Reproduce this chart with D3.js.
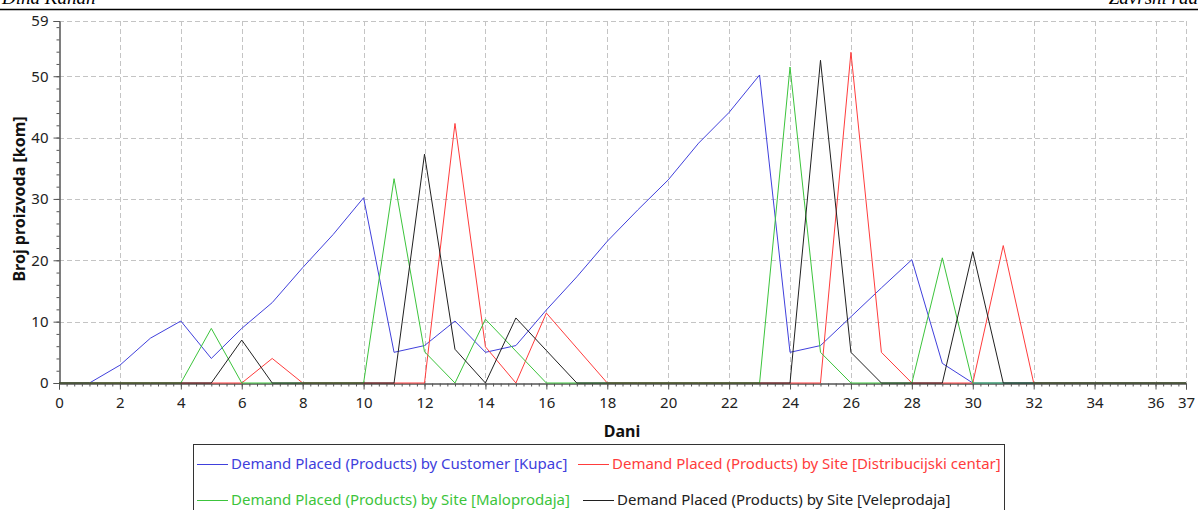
<!DOCTYPE html>
<html>
<head>
<meta charset="utf-8">
<script src="https://cdn.jsdelivr.net/npm/d3@7"></script>
<style>
  body { margin: 0; background: #fff; }
  svg { display: block; font-family: "Noto Sans", "Open Sans", sans-serif; }
</style>
</head>
<body>
<svg id="chart" width="1198" height="510"></svg>
<script>
// days on the x axis
var dani = [0,1,2,3,4,5,6,7,8,9,10,11,12,13,14,15,16,17,18,19,20,21,22,23,24,25,26,27,28,29,30,31,32,33,34,35,36,37];

// demand placed, one value per day
var kupac = [0,0,2.9,7.3,10.1,4.0,8.9,13.1,18.8,24.2,30.2,5.0,6.1,10.1,5.0,6.1,11.9,17.3,23.1,28.2,33.1,39.1,44.1,50.2,5.0,6.1,10.8,15.5,20.1,3.2,0,0,0,0,0,0,0,0];
var distribucijski = [0,0,0,0,0,0,0,4.0,0,0,0,0,0,42.3,5.9,0,11.4,5.7,0,0,0,0,0,0,0,0,53.9,5.0,0,0,0,22.4,0,0,0,0,0,0];
var maloprodaja = [0,0,0,0,0,8.9,0,0,0,0,0,33.3,5.1,0,10.4,5.2,0,0,0,0,0,0,0,0,51.5,5.0,0,0,0,20.4,0,0,0,0,0,0,0,0];
var veleprodaja = [0,0,0,0,0,0,7.0,0,0,0,0,0,37.3,5.5,0,10.6,5.3,0,0,0,0,0,0,0,0,52.6,5.0,0,0,0,21.4,0,0,0,0,0,0,0];

var seriesNames = [
  "Demand Placed (Products) by Customer [Kupac]",
  "Demand Placed (Products) by Site [Distribucijski centar]",
  "Demand Placed (Products) by Site [Maloprodaja]",
  "Demand Placed (Products) by Site [Veleprodaja]"
];
var seriesColors = ["#4040dc", "#ff3c3c", "#3cc43c", "#202020"];

var xTicks = [0,2,4,6,8,10,12,14,16,18,20,22,24,26,28,30,32,34,36,37];
var yTicks = [0,10,20,30,40,50,59];

var svg = d3.select("#chart");

var x = d3.scaleLinear().domain([0, 37]).range([59, 1186]);
var y = d3.scaleLinear().domain([0, 59]).range([383, 21]);

// header strip (page heading, mostly cut off)
svg.append("line")
  .attr("x1", 0).attr("x2", 1198)
  .attr("y1", 9.5).attr("y2", 9.5)
  .attr("stroke", "#000").attr("stroke-width", 1.3);
svg.append("text").attr("x", 2).attr("y", 4)
  .style("font-family", "'Liberation Serif', serif").style("font-style", "italic")
  .style("font-size", "19px").text("Dina Kanan");
svg.append("text").attr("x", 1198).attr("y", 4).attr("text-anchor", "end")
  .style("font-family", "'Liberation Serif', serif").style("font-style", "italic")
  .style("font-size", "19px").text("Završni rad");

// grid
var grid = svg.append("g").attr("stroke", "#c4c4c4").attr("stroke-dasharray", "5,3").attr("fill", "none");
xTicks.filter(function(d){ return d > 0; }).forEach(function(d){
  grid.append("line")
    .attr("x1", Math.round(x(d)) + 0.5).attr("x2", Math.round(x(d)) + 0.5)
    .attr("y1", y(59)).attr("y2", y(0));
});
yTicks.filter(function(d){ return d > 0; }).forEach(function(d){
  grid.append("line")
    .attr("x1", x(0)).attr("x2", x(37))
    .attr("y1", Math.round(y(d)) + 0.5).attr("y2", Math.round(y(d)) + 0.5);
});

// axes
var axisColor = "#555";
var xMinor = svg.append("g").attr("transform", "translate(0," + (Math.round(y(0)) + 0.5) + ")")
  .call(d3.axisBottom(x).tickValues(d3.range(0, 37.01, 0.25)).tickSize(3).tickFormat(""));
var xMajor = svg.append("g").attr("transform", "translate(0," + (Math.round(y(0)) + 0.5) + ")")
  .call(d3.axisBottom(x).tickValues(xTicks).tickSize(6).tickPadding(8).tickFormat(d3.format("d")));
var yMinor = svg.append("g").attr("transform", "translate(" + (Math.round(x(0)) + 0.5) + ",0)")
  .call(d3.axisLeft(y).tickValues(d3.range(0, 59.01, 2).concat([59])).tickSize(3).tickFormat(""));
var yMajor = svg.append("g").attr("transform", "translate(" + (Math.round(x(0)) + 0.5) + ",0)")
  .call(d3.axisLeft(y).tickValues(yTicks).tickSize(6).tickPadding(5).tickFormat(d3.format("d")));

[xMinor, xMajor, yMinor, yMajor].forEach(function(g){
  g.selectAll(".domain").attr("stroke", axisColor);
  g.selectAll(".tick line").attr("stroke", axisColor);
  g.selectAll("text").attr("fill", "#222").style("font-size", "15px")
    .style("font-family", "'Noto Sans', sans-serif");
});

// series
var line = d3.line()
  .x(function(d){ return x(d[0]); })
  .y(function(d){ return y(d[1]); });

[kupac, distribucijski, maloprodaja, veleprodaja].forEach(function(vals, i){
  var pts = dani.map(function(d, j){ return [d, vals[j]]; });
  svg.append("path")
    .datum(pts)
    .attr("d", line)
    .attr("fill", "none")
    .attr("stroke", seriesColors[i])
    .attr("stroke-width", 1);
});

// axis titles
svg.append("text")
  .attr("x", 622).attr("y", 437)
  .attr("text-anchor", "middle")
  .style("font-weight", "bold").style("font-size", "16px").attr("fill", "#111")
  .text("Dani");
svg.append("text")
  .attr("transform", "translate(25,199) rotate(-90)")
  .attr("text-anchor", "middle")
  .style("font-weight", "bold").style("font-size", "16px").attr("fill", "#111")
  .text("Broj proizvoda [kom]");

// legend
var legend = svg.append("g");
legend.append("rect")
  .attr("x", 193.5).attr("y", 444.5)
  .attr("width", 811).attr("height", 90)
  .attr("fill", "none").attr("stroke", "#333");

var legendPos = [[197, 464], [578, 464], [197, 500], [583, 500]];
seriesNames.forEach(function(name, i){
  var p = legendPos[i];
  legend.append("line")
    .attr("x1", p[0]).attr("x2", p[0] + 31)
    .attr("y1", p[1] + 0.5).attr("y2", p[1] + 0.5)
    .attr("stroke", seriesColors[i]);
  legend.append("text")
    .attr("x", p[0] + 34).attr("y", p[1] + 5)
    .attr("fill", seriesColors[i])
    .style("font-size", "15px")
    .text(name);
});
</script>
</body>
</html>
